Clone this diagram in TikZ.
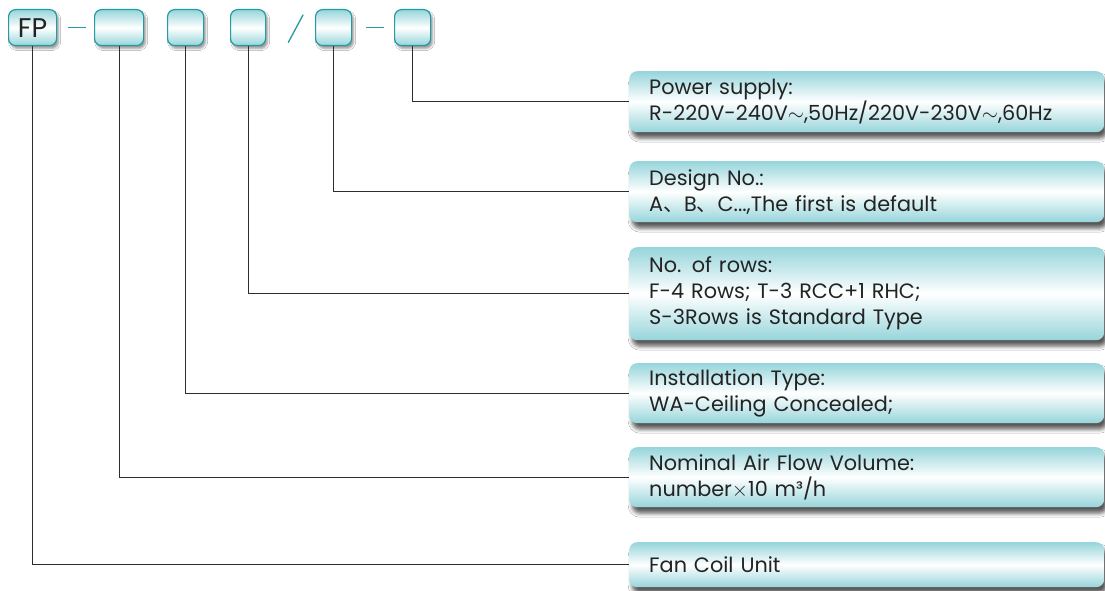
\documentclass[tikz,border=0pt]{standalone}
\usepackage{fontspec}
\setmainfont{Poppins}
\newfontfamily\cjk{Noto Sans CJK SC}
\usetikzlibrary{shadows.blur}
\definecolor{tealline}{RGB}{35,155,160}
\definecolor{tealfill}{RGB}{150,213,219}
\definecolor{wirecol}{RGB}{45,45,45}
\definecolor{txtcol}{RGB}{35,35,35}
\tikzset{
  codebox/.style={draw=tealline, line width=1.2pt, rounded corners=7pt, anchor=north west,
    minimum height=36pt, inner sep=0pt, top color=tealfill, bottom color=tealfill, middle color=white,
    blur shadow={shadow xshift=2pt, shadow yshift=-3pt, shadow blur radius=2pt, shadow opacity=40},
    text=txtcol, font=\fontsize{27}{30}\selectfont},
  descbox/.style={rounded corners=8pt, anchor=north west, minimum width=475pt, text width=435pt,
    inner xsep=20pt, align=left, top color=tealfill, bottom color=tealfill, middle color=white,
    blur shadow={shadow xshift=3pt, shadow yshift=-6pt, shadow blur radius=4pt, shadow opacity=65},
    text=txtcol, font=\fontsize{20.8}{26}\selectfont},
  wire/.style={draw=wirecol, line width=1pt},
  tealdash/.style={draw=tealline, line width=1.3pt}
}
\begin{document}
\begin{tikzpicture}[x=1pt,y=-1pt]
\useasboundingbox[fill=white] (0,0) rectangle (1105,591);

% code boxes
\node[codebox, minimum width=48pt] (cFP) at (8,9) {FP};
\node[codebox, minimum width=49pt] (cFlow) at (94,9) {};
\node[codebox, minimum width=36pt] (cInst) at (167,9) {};
\node[codebox, minimum width=35pt] (cRows) at (230,9) {};
\node[codebox, minimum width=36pt] (cDesign) at (315,9) {};
\node[codebox, minimum width=36pt] (cPower) at (394,9) {};

\draw[tealdash] ([xshift=11pt]cFP.east) -- ([xshift=-8pt]cFlow.west);
\draw[tealdash] ([xshift=22pt,yshift=-15pt]cRows.east) -- ([xshift=37pt,yshift=13pt]cRows.east);
\draw[tealdash] ([xshift=14pt]cDesign.east) -- ([xshift=-10pt]cPower.west);

% descriptions
\node[descbox, minimum height=61pt] (dPower) at (629,71) {Power supply:\\R-220V-240V$\sim$,50Hz/220V-230V$\sim$,60Hz};
\node[descbox, minimum height=61pt] (dDesign) at (629,161) {Design No.:\\A{\cjk 、}B{\cjk 、}C...,The first is default};
\node[descbox, minimum height=93pt] (dRows) at (629,247) {No. of rows:\\F-4 Rows; T-3 RCC+1 RHC;\\S-3Rows is Standard Type};
\node[descbox, minimum height=60pt] (dInst) at (629,363) {Installation Type:\\WA-Ceiling Concealed;};
\node[descbox, minimum height=60pt] (dFlow) at (629,447) {Nominal Air Flow Volume:\\number$\times$10 m³/h};
\node[descbox, minimum height=45pt] (dFCU) at (629,542) {Fan Coil Unit};

% leaders
\draw[wire] (cPower.south) |- (dPower.west);
\draw[wire] (cDesign.south) |- (dDesign.west);
\draw[wire] (cRows.south) |- (dRows.west);
\draw[wire] (cInst.south) |- (dInst.west);
\draw[wire] (cFlow.south) |- (dFlow.west);
\draw[wire] (cFP.south) |- (dFCU.west);
\end{tikzpicture}
\end{document}
